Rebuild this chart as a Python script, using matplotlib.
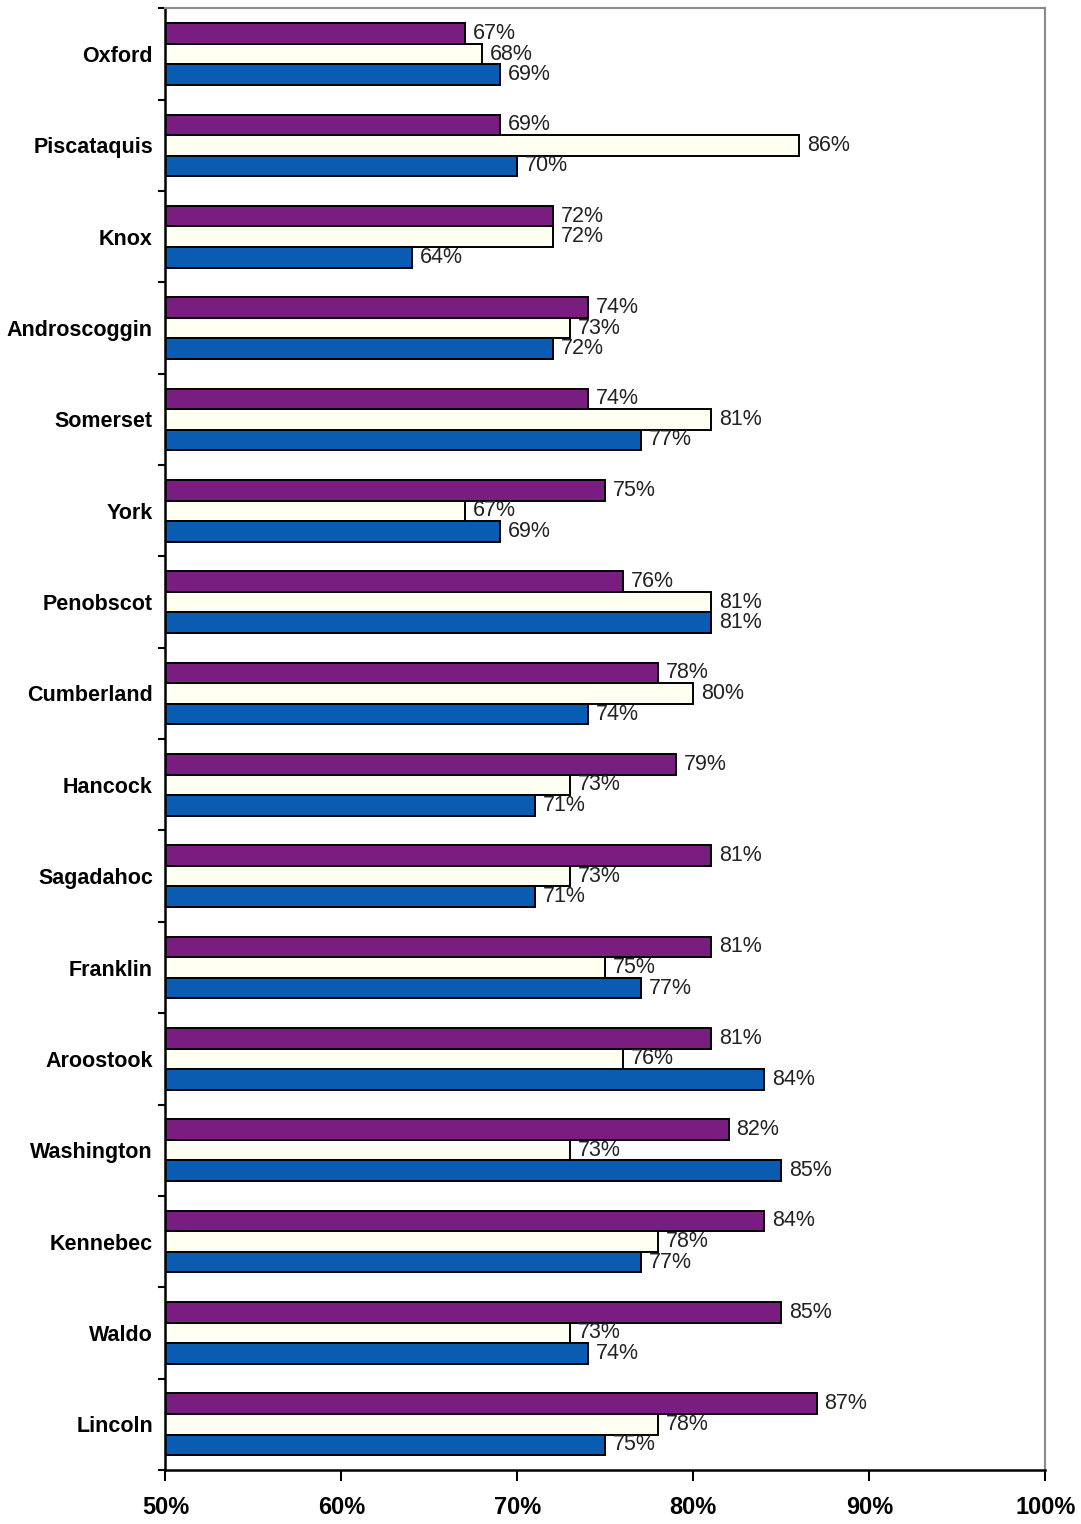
import numpy as np
import matplotlib.pyplot as plt

plt.rcParams['font.family'] = ['Liberation Sans', 'DejaVu Sans']

counties = ['Oxford', 'Piscataquis', 'Knox', 'Androscoggin', 'Somerset', 'York',
            'Penobscot', 'Cumberland', 'Hancock', 'Sagadahoc', 'Franklin',
            'Aroostook', 'Washington', 'Kennebec', 'Waldo', 'Lincoln']
purple_vals = [67, 69, 72, 74, 74, 75, 76, 78, 79, 81, 81, 81, 82, 84, 85, 87]
cream_vals = [68, 86, 72, 73, 81, 67, 81, 80, 73, 73, 75, 76, 73, 78, 73, 78]
blue_vals = [69, 70, 64, 72, 77, 69, 81, 74, 71, 71, 77, 84, 85, 77, 74, 75]
xticks = [50, 60, 70, 80, 90, 100]

colors = ['#7a1d80', '#fffff2', '#0a5cb2']
series = [purple_vals, cream_vals, blue_vals]

fig = plt.figure(figsize=(10.81, 15.24), dpi=100)
ax = fig.add_axes([0.153, 0.0355, 0.814, 0.959])

y = np.arange(len(counties))
h = 0.225
offsets = [-h, 0, h]
for vals, col, off in zip(series, colors, offsets):
    bars = ax.barh(y + off, np.array(vals) - 50, left=50, height=h,
                   color=col, edgecolor='black', linewidth=1.4)
    for b, v in zip(bars, vals):
        ax.text(v + 0.45, b.get_y() + h / 2, f'{v}%', va='center', ha='left',
                fontsize=15.5, color='#222222')

ax.set_xlim(50, 100)
ax.set_ylim(len(counties) - 0.5, -0.5)
ax.set_xticks(xticks)
ax.set_xticklabels([f'{t}%' for t in xticks], fontsize=17, fontweight='bold')
ax.set_yticks(y)
ax.set_yticklabels(counties, fontsize=15.5, fontweight='bold')
ax.tick_params(axis='y', length=0, pad=9)
ax.set_yticks(np.arange(-0.5, len(counties), 1), minor=True)
ax.tick_params(axis='y', which='minor', length=5, width=1.5, direction='out')
ax.tick_params(axis='x', length=8, width=1.5, direction='out', pad=11)

for s in ['left', 'bottom']:
    ax.spines[s].set_linewidth(1.8)
    ax.spines[s].set_color('black')
for s in ['top', 'right']:
    ax.spines[s].set_linewidth(1.5)
    ax.spines[s].set_color('#8a8a8a')

fig.savefig('out.png', dpi=100)
